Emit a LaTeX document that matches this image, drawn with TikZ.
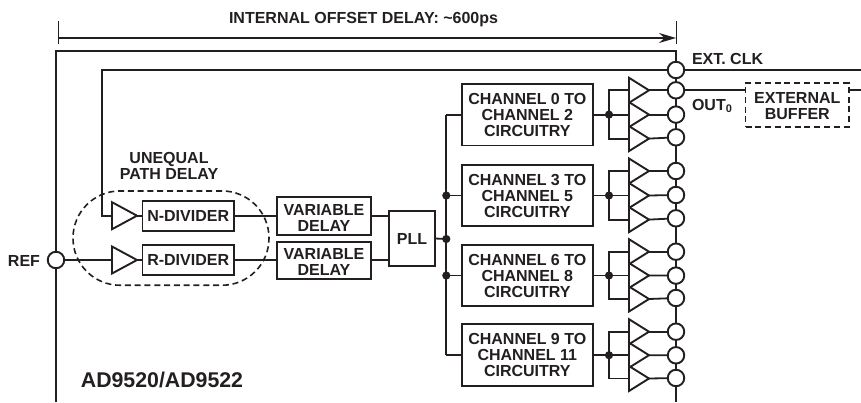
\documentclass[tikz,border=0pt]{standalone}
\usepackage{fontspec}
\setmainfont{Liberation Sans}
\usetikzlibrary{arrows.meta,shapes.geometric,calc}
\definecolor{ink}{HTML}{231F20}
\tikzset{
  lbl/.style={inner sep=0pt,outer sep=0pt,text=ink,font=\fontsize{16}{16}\selectfont\bfseries,align=center},
  blk/.style={draw=ink,line width=1.9pt,fill=white,inner sep=0pt,outer sep=0pt,minimum width=#1},
  pad/.style={draw=ink,line width=1.9pt,fill=white,circle,inner sep=0pt,outer sep=0pt,minimum size=16.5pt},
  amp/.style 2 args={draw=ink,line width=1.9pt,isosceles triangle,isosceles triangle stretches,inner sep=0pt,outer sep=0pt,anchor=lower side,minimum height=#1,minimum width=#2},
  wire/.style={draw=ink,line width=1.8pt},
  dotn/.style={circle,fill=ink,inner sep=0pt,outer sep=0pt,minimum size=8.2pt},
  dash box/.style={draw=ink,line width=1.6pt,dash pattern=on 6pt off 3.8pt},
}
\begin{document}
\begin{tikzpicture}[x=1pt,y=-1pt]
\useasboundingbox (0,0) rectangle (861,402);
% coordinates
\coordinate (fTL) at (56,51); \coordinate (fTR) at (676,51);
\coordinate (fBL) at (56,402); \coordinate (fBR) at (676,402);
\coordinate (tickL1) at (58,21); \coordinate (tickL2) at (58,44);
\coordinate (tickR1) at (676,21); \coordinate (tickR2) at (676,44);
\coordinate (arrL) at (58,38); \coordinate (arrR) at (676,38);
\coordinate (clkEnd) at (861,70);
\coordinate (clkL) at (102,70);
\coordinate (busT) at (446.3,114.6); \coordinate (busB) at (446.3,355.2);
% chip frame
\draw[draw=ink,line width=2.6pt] (fBL) -- (fTL) -- (fTR) -- (fBR);
% offset arrow
\draw[draw=ink,line width=1pt] (tickL1) -- (tickL2) (tickR1) -- (tickR2);
\draw[draw=ink,line width=1.5pt,-{Stealth[length=17pt,width=10pt]}] (arrL) -- (arrR);
\node[lbl] (ttl) at (363.5,20) {INTERNAL OFFSET DELAY: \char`\~600ps};
% pads
\node[pad] (ref) at (56,260) {};
\node[pad] (clk) at (676,70) {};
\node[lbl,anchor=east] (reflbl) at (40,261) {REF};
\node[lbl,anchor=west] (clklbl) at (692,58.5) {EXT. CLK};
\node[lbl,anchor=west] (outlbl) at (692,106) {OUT\raisebox{-2.5pt}{\fontsize{11}{11}\selectfont 0}};
% dividers
\node[amp={25pt}{27pt}] (an) at (112,215.7) {};
\node[amp={25pt}{27pt}] (ar) at (112,260) {};
\node[blk=91.5pt,minimum height=30pt,lbl] (nd) at (188.2,215.7) {N-DIVIDER};
\node[blk=91.5pt,minimum height=30pt,lbl] (rd) at (188.2,260) {R-DIVIDER};
\node[blk=94pt,minimum height=38pt,lbl] (vd1) at (324,216) {\rule{0pt}{14.5pt}VARIABLE\\DELAY};
\node[blk=94pt,minimum height=37.5pt,lbl] (vd2) at (324,260.3) {\rule{0pt}{14.5pt}VARIABLE\\DELAY};
\node[blk=46pt,minimum height=55pt,lbl] (pll) at (412,238.5) {PLL};
% dashed group
\node[dash box,rounded corners=47pt,minimum width=196pt,minimum height=94.3pt,inner sep=0pt] (grp) at (171,238.1) {};
\node[lbl] (upd) at (169,165.5) {UNEQUAL\\PATH DELAY};
\node[lbl,font=\fontsize{21.3}{22}\selectfont\bfseries] (part) at (162,380) {AD9520/AD9522};
% connectors left part
\draw[wire] (clk.west) -- (clkL) |- (an.lower side);
\draw[wire] (clk.east) -- (clkEnd);
\draw[wire] (ref.east) -- (ar.lower side);
\draw[wire] (an.apex) -- (nd.west);
\draw[wire] (ar.apex) -- (rd.west);
\draw[wire] (nd.east) -- (nd.east -| vd1.west);
\draw[wire] (rd.east) -- (rd.east -| vd2.west);
\draw[wire] (vd1.east |- an.lower side) -- (pll.west |- an.lower side);
\draw[wire] (vd2.east |- ar.lower side) -- (pll.west |- ar.lower side);
% bus
\node[dotn] (d1) at (446.3,195.5) {};
\node[dotn] (d2) at (446.3,239) {};
\node[dotn] (d3) at (446.3,275.5) {};
\draw[wire] (pll.east) -- (d2.center);
% channels
\foreach \nm/\c/\ta/\tb/\tc/\pa/\pb/\pc/\tx in {
  A/114.6/90.3/114.6/138.6/90.3/114.6/137.3/{CHANNEL 0 TO\\CHANNEL 2\\CIRCUITRY},
  B/195.5/171/195.5/219.6/171/195/218.3/{CHANNEL 3 TO\\CHANNEL 5\\CIRCUITRY},
  C/275.5/251.7/275.5/299/251.7/275.6/298/{CHANNEL 6 TO\\CHANNEL 8\\CIRCUITRY},
  D/355.2/331.7/355.2/378.5/331.7/355.3/378/{CHANNEL 9 TO\\CHANNEL 11\\CIRCUITRY}}{
  \node[blk=130.7pt,minimum height=61.7pt,lbl] (ch\nm) at (527.3,\c) {\tx};
  \node[dotn] (j\nm) at (609,\c) {};
  \node[amp={20pt}{25pt}] (t\nm1) at (629,\ta) {};
  \node[amp={20pt}{25pt}] (t\nm2) at (629,\tb) {};
  \node[amp={20pt}{25pt}] (t\nm3) at (629,\tc) {};
  \draw[wire] (ch\nm.west) -- (busT |- ch\nm.west);
  \draw[wire] (ch\nm.east) -- (j\nm.center);
  \draw[wire] (j\nm.center) -- (t\nm2.lower side);
  \draw[wire] (t\nm1.lower side) -| (j\nm.center);
  \draw[wire] (t\nm3.lower side) -| (j\nm.center);
  \draw[wire] (t\nm1.apex) -- (676,\pa);
  \draw[wire] (t\nm2.apex) -- (676,\pb);
  \draw[wire] (t\nm3.apex) -- (676,\pc);
  \node[pad] (p\nm1) at (676,\pa) {};
  \node[pad] (p\nm2) at (676,\pb) {};
  \node[pad] (p\nm3) at (676,\pc) {};
}
\draw[wire] (busT) -- (busB);
% external buffer
\node[dash box,minimum width=103.3pt,minimum height=44pt,inner sep=0pt,lbl] (buf) at (797.3,104.7) {\rule{0pt}{14.5pt}EXTERNAL\\BUFFER};
\coordinate (outEnd) at (861,90.3);
\draw[wire] (pA1.east) -- (pA1.east -| buf.west);
\draw[wire] (pA1.east -| buf.east) -- (outEnd);
\end{tikzpicture}
\end{document}
